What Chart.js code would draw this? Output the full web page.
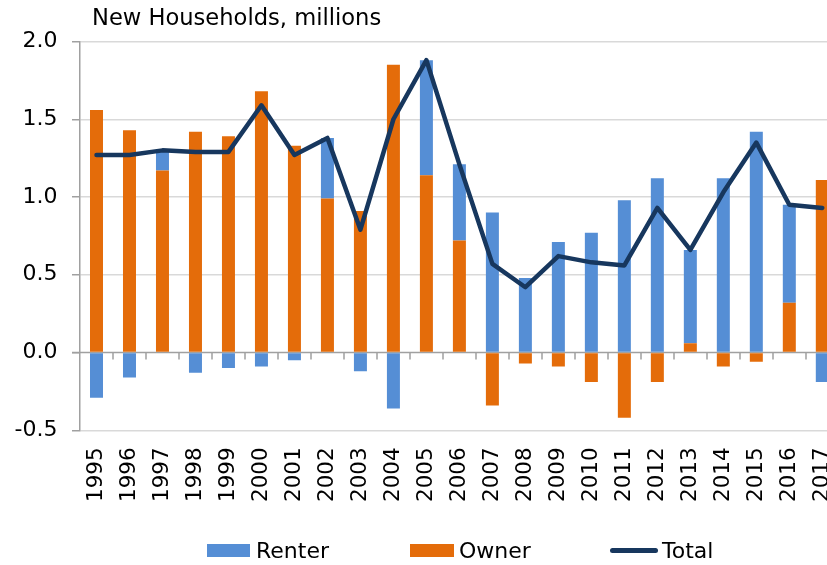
<!DOCTYPE html>
<html>
<head>
<meta charset="utf-8">
<script src="https://cdn.jsdelivr.net/npm/chart.js@4/dist/chart.umd.min.js"></script>
<style>
  html, body { margin: 0; padding: 0; background: #fff; overflow: hidden; }
  body { width: 827px; height: 565px; position: relative; font-family: 'DejaVu Sans', Verdana, sans-serif; color: #000; }
  #wrap { position: absolute; left: 0; top: 0; width: 840px; height: 565px; }
  #title { position: absolute; left: 92px; top: 4.2px; font-size: 22.6px; line-height: normal; white-space: nowrap; }
  .lg { position: absolute; font-size: 22px; line-height: 22px; white-space: nowrap; }
  .box { position: absolute; height: 13px; }
  .ln { position: absolute; height: 5px; border-radius: 3px; }
</style>
</head>
<body>
<div id="wrap"><canvas id="c"></canvas></div>
<div id="title">New Households, millions</div>
<div class="box" style="left:207px; top:543.5px; width:43px; background:#558ED5;"></div>
<div class="lg" style="left:256px; top:540px;">Renter</div>
<div class="box" style="left:410px; top:543.5px; width:44px; background:#E46C0A;"></div>
<div class="lg" style="left:459px; top:540px;">Owner</div>
<div class="ln" style="left:610px; top:547.5px; width:48px; background:#17375E;"></div>
<div class="lg" style="left:662px; top:540px;">Total</div>
<script>
const years = ['1995','1996','1997','1998','1999','2000','2001','2002','2003','2004','2005','2006','2007','2008','2009','2010','2011','2012','2013','2014','2015','2016','2017'];
const owner  = [1.56, 1.43, 1.17, 1.42, 1.39, 1.68, 1.33, 0.99, 0.91, 1.85, 1.14, 0.72, -0.34, -0.07, -0.09, -0.19, -0.42, -0.19, 0.06, -0.09, -0.06, 0.32, 1.11];
const renter = [-0.29, -0.16, 0.13, -0.13, -0.10, -0.09, -0.05, 0.39, -0.12, -0.36, 0.74, 0.49, 0.90, 0.48, 0.71, 0.77, 0.98, 1.12, 0.60, 1.12, 1.42, 0.63, -0.19];
const total  = [1.27, 1.27, 1.30, 1.29, 1.29, 1.59, 1.27, 1.38, 0.79, 1.50, 1.88, 1.21, 0.57, 0.42, 0.62, 0.58, 0.56, 0.93, 0.66, 1.03, 1.35, 0.95, 0.93];
const yTicks = [-0.5, 0.0, 0.5, 1.0, 1.5, 2.0];

Chart.defaults.font.family = "'DejaVu Sans', Verdana, sans-serif";
Chart.defaults.color = '#000';

// Zero line with category tick marks, placed through the chart's own scales
const zeroAxis = {
  id: 'zeroAxis',
  beforeDatasetsDraw(chart) {
    const x = chart.scales.x, y = chart.scales.y, area = chart.chartArea;
    const y0 = y.getPixelForValue(0);
    const ctx = chart.ctx;
    const n = years.length;
    const step = (x.getPixelForValue(n - 1) - x.getPixelForValue(0)) / (n - 1);
    ctx.save();
    ctx.strokeStyle = '#A0A0A0';
    ctx.lineWidth = 1.5;
    ctx.beginPath();
    ctx.moveTo(area.left - 8, y0);
    ctx.lineTo(area.right, y0);
    ctx.stroke();
    ctx.beginPath();
    for (let i = 0; i < n; i++) {
      const xb = Math.round(x.getPixelForValue(i) + step / 2);
      ctx.moveTo(xb, y0);
      ctx.lineTo(xb, y0 + 7);
    }
    ctx.stroke();
    ctx.restore();
  }
};

new Chart(document.getElementById('c'), {
  type: 'bar',
  data: {
    labels: years,
    datasets: [
      { type: 'line', label: 'Total', data: total, borderColor: '#17375E', backgroundColor: '#17375E',
        borderWidth: 4.5, pointRadius: 0, tension: 0, borderJoinStyle: 'round', borderCapStyle: 'round' },
      { label: 'Owner', data: owner, backgroundColor: '#E46C0A', borderWidth: 0,
        barPercentage: 0.394, categoryPercentage: 1.0 },
      { label: 'Renter', data: renter, backgroundColor: '#558ED5', borderWidth: 0,
        barPercentage: 0.394, categoryPercentage: 1.0 }
    ]
  },
  options: {
    responsive: true,
    maintainAspectRatio: false,
    animation: false,
    layout: { padding: { top: 41.5, left: 0, right: 1.2, bottom: 63 } },
    plugins: { legend: { display: false }, tooltip: { enabled: false } },
    scales: {
      x: {
        stacked: true,
        grid: { display: false, drawTicks: false },
        border: { display: false },
        afterFit: (s) => { s.height = 71.7; s.paddingLeft = 0; s.paddingRight = 0; },
        ticks: { font: { size: 21.5 }, minRotation: 90, maxRotation: 90, padding: 17, autoSkip: false }
      },
      y: {
        stacked: true,
        min: -0.5,
        max: 2.0,
        afterBuildTicks: (s) => { s.ticks = yTicks.map(v => ({ value: v })); },
        afterFit: (s) => { s.width = 80; s.paddingTop = 0; s.paddingBottom = 0; },
        grid: { color: (c) => c.tick && c.tick.value === 0 ? 'rgba(0,0,0,0)' : '#D9D9D9', lineWidth: 1.5, tickColor: '#A0A0A0', tickLength: 8 },
        border: { display: true, color: '#A0A0A0', width: 1.5 },
        ticks: { font: { size: 22 }, padding: 14.5, callback: (v) => Number(v).toFixed(1) }
      }
    }
  },
  plugins: [zeroAxis]
});
</script>
</body>
</html>
